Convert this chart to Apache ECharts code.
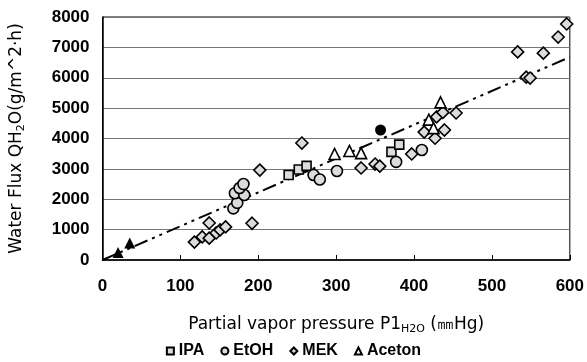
<!DOCTYPE html>
<html><head><meta charset="utf-8">
<script src="https://cdn.jsdelivr.net/npm/echarts@6/dist/echarts.min.js"></script>
<style>html,body{margin:0;padding:0;background:#fff}#c{width:587px;height:362px}</style>
</head><body><div id="c"></div>
<script>
const seriesNames = ['IPA', 'EtOH', 'MEK', 'Aceton'];
const ipaData = [[239,2800],[252,2980],[262,3100],[371,3560],[381,3800]];
const etohData = [[168,1700],[173,1880],[170,2200],[182,2140],[176,2370],[181,2500],[271,2800],[279,2650],[301,2930],[377,3230],[410,3620]];
const mekData = [[118,590],[128,760],[137,720],[137,1220],[146,890],[151,990],[158,1090],[192,1210],[202,2960],[256,3850],[332,3030],[350,3160],[356,3090],[397,3490],[413,4210],[427,4010],[439,4280],[429,4710],[437,4860],[454,4840],[533,6850],[544,6020],[549,5990],[566,6810],[585,7340],[596,7770]];
const acetonData = [[298,3490],[317,3590],[332,3520],[419,4620],[425,4340],[434,5190]];
const filledTriangleData = [[20,250],[35,560]];
const filledCircleData = [[357,4280]];
const trendData = [[0,0],[600,6680]];
const xTicks = [0,100,200,300,400,500,600];
const yTicks = [0,1000,2000,3000,4000,5000,6000,7000,8000];

const hatch = '#dcdcdc';
const sc = (name, data, symbol, size, fill) => ({
  name, type: 'scatter', data, symbol, symbolSize: size,
  itemStyle: {color: fill, borderColor: '#000', borderWidth: 1.6, opacity: 1}, z: 3
});
const subStyle = {fontSize: 11, verticalAlign: 'bottom', padding: [9,0,0,0], fontFamily: 'DejaVu Sans', color: '#000'};
const chart = echarts.init(document.getElementById('c'));
chart.setOption({
  animation: false,
  grid: {left: 91, right: 15, top: 17, bottom: 102, show: true, borderColor: '#000', borderWidth: 1},
  xAxis: {
    type: 'value', min: xTicks[0], max: xTicks[xTicks.length-1], interval: 100,
    name: 'Partial vapor pressure P1{sub|H2O} (㎜Hg)', nameLocation: 'middle', nameGap: 55,
    nameTextStyle: {fontFamily: 'DejaVu Sans', fontSize: 17, color: '#000', rich: {sub: subStyle}},
    axisLine: {lineStyle: {color: '#000', width: 1.5}},
    axisTick: {inside: true, length: 5, lineStyle: {color: '#000'}},
    axisLabel: {margin: 18, fontFamily: 'Liberation Sans', fontWeight: 'bold', fontSize: 17, color: '#000'},
    splitLine: {show: false}
  },
  yAxis: {
    type: 'value', min: yTicks[0], max: yTicks[yTicks.length-1], interval: 1000,
    name: 'Water Flux QH{sub|2}O(g/m^2·h)', nameLocation: 'middle', nameGap: 76, nameRotate: 90,
    nameTextStyle: {fontFamily: 'DejaVu Sans', fontSize: 17, color: '#000', rich: {sub: subStyle}},
    axisLine: {show: true, lineStyle: {color: '#000', width: 1.5}},
    axisTick: {show: false},
    axisLabel: {margin: 13, fontFamily: 'Liberation Sans', fontWeight: 'bold', fontSize: 17, color: '#000', formatter: v => String(v)},
    splitLine: {lineStyle: {color: '#777', width: 1}}
  },
  legend: {
    data: seriesNames, bottom: -2, left: 'center', itemWidth: 7, itemHeight: 7, itemGap: 16,
    textStyle: {fontFamily: 'Liberation Sans', fontWeight: 'bold', fontSize: 16, color: '#000'}
  },
  series: [
    sc(seriesNames[0], ipaData, 'rect', 9, hatch),
    sc(seriesNames[1], etohData, 'circle', 11, hatch),
    sc(seriesNames[2], mekData, 'diamond', 12, hatch),
    sc(seriesNames[3], acetonData, 'triangle', 11, '#fff'),
    {type: 'scatter', data: filledTriangleData, symbol: 'triangle', symbolSize: 11, itemStyle: {color: '#000', opacity: 1}, z: 3},
    {type: 'scatter', data: filledCircleData, symbol: 'circle', symbolSize: 11, itemStyle: {color: '#000', opacity: 1}, z: 3},
    {type: 'line', data: trendData, symbol: 'none', z: 2,
     lineStyle: {color: '#000', width: 2, type: [14,5,3,5,3,5]}}
  ]
});
</script></body></html>
